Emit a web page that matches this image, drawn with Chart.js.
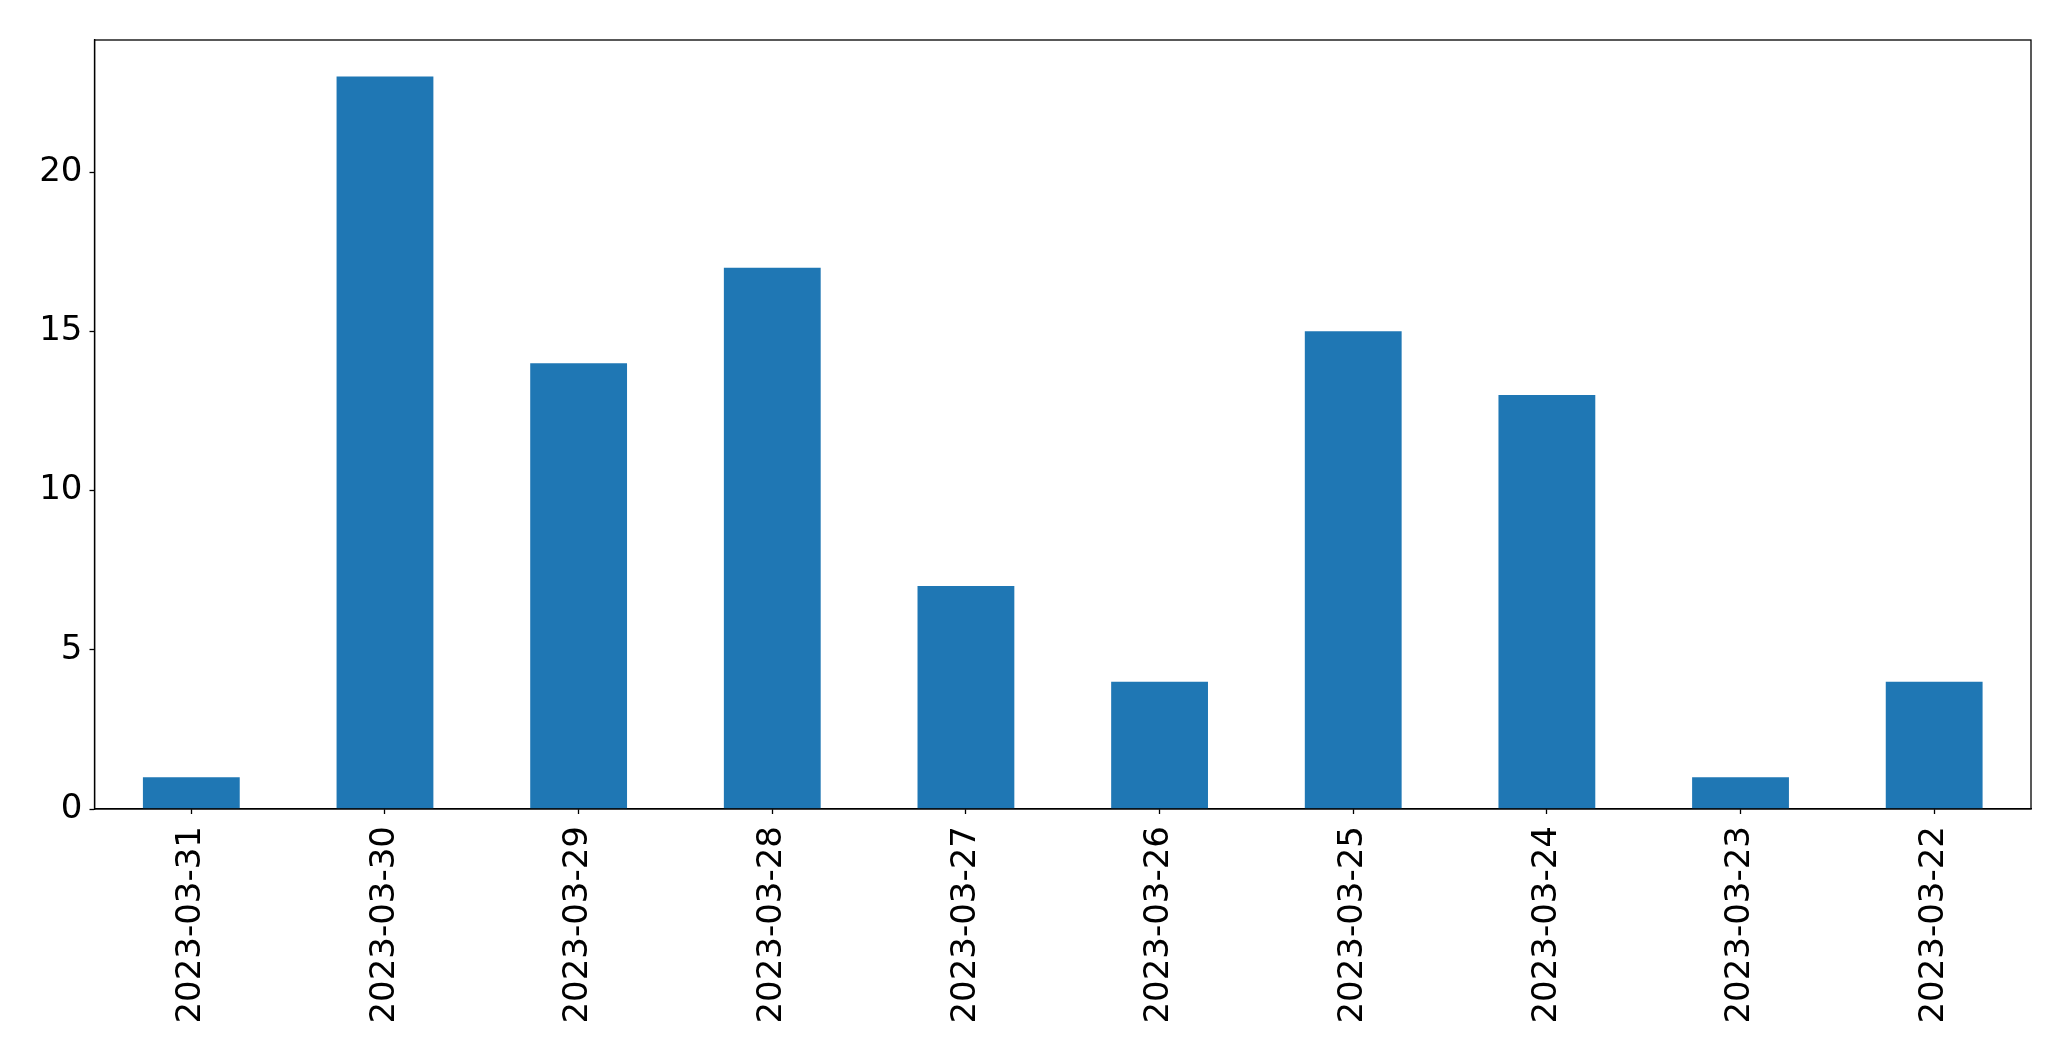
<!DOCTYPE html>
<html lang="en">
<head>
    <meta charset="UTF-8" />
    <title>Contagem por dia</title>
    <script src="https://cdn.jsdelivr.net/npm/chart.js"></script>
    <style>
        html, body { margin: 0; padding: 0; background: #fff; }
        #box { width: 2071px; height: 1061px; }
    </style>
</head>
<body>
    <div id="box">
        <canvas id="grafico"></canvas>
    </div>

<script>
    // dados
    const dias = ['2023-03-31', '2023-03-30', '2023-03-29', '2023-03-28', '2023-03-27',
                  '2023-03-26', '2023-03-25', '2023-03-24', '2023-03-23', '2023-03-22'];
    const contagem = [1, 23, 14, 17, 7, 4, 15, 13, 1, 4];
    const yTicks = [0, 5, 10, 15, 20];

    const fonte = { family: 'DejaVu Sans', size: 34 };

    // moldura completa em volta da area do grafico
    const moldura = {
        id: 'moldura',
        afterDraw(chart) {
            const a = chart.chartArea;
            const ctx = chart.ctx;
            ctx.save();
            ctx.strokeStyle = '#000';
            ctx.lineWidth = 1.3;
            ctx.strokeRect(a.left, a.top, a.right - a.left, a.bottom - a.top);
            ctx.restore();
        }
    };

    const tela = document.getElementById('grafico');
    new Chart(tela, {
        type: 'bar',
        data: {
            labels: dias,
            datasets: [
                {
                    data: contagem,
                    backgroundColor: '#1f77b4',
                    borderWidth: 0,
                    categoryPercentage: 0.5,
                    barPercentage: 1.0
                }
            ]
        },
        options: {
            responsive: true,
            maintainAspectRatio: false,
            animation: false,
            layout: { padding: { top: 40, right: 40, left: 0, bottom: 0 } },
            plugins: {
                legend: { display: false },
                tooltip: { enabled: false }
            },
            scales: {
                x: {
                    grid: { drawOnChartArea: false, offset: false, tickLength: 5, color: '#000', tickWidth: 1.3 },
                    border: { color: '#000', width: 1.3 },
                    ticks: {
                        color: '#000',
                        font: fonte,
                        minRotation: 90,
                        maxRotation: 90,
                        padding: 12,
                        autoSkip: false
                    },
                    afterFit(axis) { axis.height = 252; }
                },
                y: {
                    min: 0,
                    max: 24.15,
                    grid: { drawOnChartArea: false, tickLength: 5, color: '#000', tickWidth: 1.3 },
                    border: { color: '#000', width: 1.3 },
                    ticks: { color: '#000', font: fonte, padding: 7 },
                    afterBuildTicks(axis) { axis.ticks = yTicks.map(v => ({ value: v })); },
                    afterFit(axis) { axis.width = 94.5; }
                }
            }
        },
        plugins: [moldura]
    });
</script>
</body>
</html>
